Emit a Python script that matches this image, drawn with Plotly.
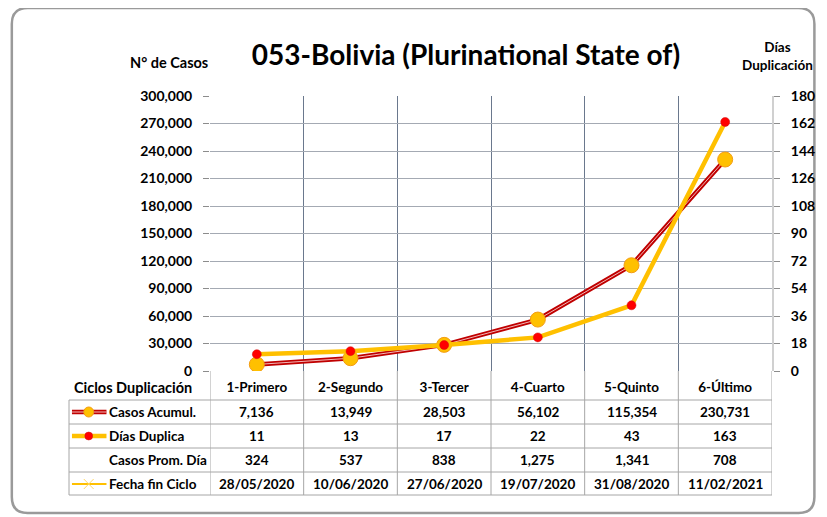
import plotly.graph_objects as go

CICLOS = ["1-Primero", "2-Segundo", "3-Tercer", "4-Cuarto", "5-Quinto", "6-Último"]
CASOS_ACUMUL = [7136, 13949, 28503, 56102, 115354, 230731]
DIAS_DUPLICA = [11, 13, 17, 22, 43, 163]
CASOS_PROM_DIA = [324, 537, 838, 1275, 1341, 708]
FECHA_FIN = ["28/05/2020", "10/06/2020", "27/06/2020", "19/07/2020", "31/08/2020", "11/02/2021"]

# the page body adds an 8px margin, so the figure is drawn 8px smaller
OFF = 8
W, H = 827 - OFF, 517 - OFF
L, R, T, B = 210, 780, 96, 371  # plot area in window pixels

FONT = "Lato"
DARK_RED = "#c00000"
GOLD = "#ffc000"
RED = "#ff0000"
GRID_H = "#a4aab3"
GRID_V = "#6a788d"
TABLE_LINE = "#a6a6a6"


def px(x):
    return (x - L) / (R - L)


def py(y):
    return (B - y) / (B - T)


fig = go.Figure()

fig.add_trace(go.Scatter(
    x=CICLOS, y=CASOS_ACUMUL, mode="lines", yaxis="y",
    line=dict(color=DARK_RED, width=4.5), showlegend=False, hoverinfo="skip",
))
fig.add_trace(go.Scatter(
    x=CICLOS, y=CASOS_ACUMUL, mode="lines+markers", yaxis="y", name="Casos Acumul.",
    line=dict(color="#f2b8b8", width=1),
    marker=dict(size=15, color=GOLD, line=dict(color="#f39c12", width=1)),
    showlegend=False,
))
fig.add_trace(go.Scatter(
    x=CICLOS, y=DIAS_DUPLICA, mode="lines+markers", yaxis="y2", name="Días Duplica",
    line=dict(color=GOLD, width=4.5),
    marker=dict(size=9, color=RED, line=dict(color="#d01010", width=0.5)),
    showlegend=False,
))

shapes = []
annotations = []

# outer rounded border
x0, x1, y0, y1, rad = 9, 823, 8, 513, 16
path = (
    f"M {px(x0 + rad)},{py(y0)} L {px(x1 - rad)},{py(y0)} "
    f"Q {px(x1)},{py(y0)} {px(x1)},{py(y0 + rad)} "
    f"L {px(x1)},{py(y1 - rad)} Q {px(x1)},{py(y1)} {px(x1 - rad)},{py(y1)} "
    f"L {px(x0 + rad)},{py(y1)} Q {px(x0)},{py(y1)} {px(x0)},{py(y1 - rad)} "
    f"L {px(x0)},{py(y0 + rad)} Q {px(x0)},{py(y0)} {px(x0 + rad)},{py(y0)} Z"
)
shapes.append(dict(type="path", path=path, xref="paper", yref="paper",
                   line=dict(color="#9a9a9a", width=2.5), layer="below"))

# table grid
ROW_LINES = [400, 424, 448, 472, 495]
for yl in ROW_LINES:
    shapes.append(dict(type="line", xref="paper", yref="paper",
                       x0=px(67), x1=px(R), y0=py(yl), y1=py(yl),
                       line=dict(color=TABLE_LINE, width=1)))
shapes.append(dict(type="line", xref="paper", yref="paper",
                   x0=px(67), x1=px(67), y0=py(400), y1=py(495),
                   line=dict(color=TABLE_LINE, width=1)))
for i in range(len(CICLOS) + 1):
    shapes.append(dict(type="line", xref="x", yref="paper",
                       x0=i - 0.5, x1=i - 0.5, y0=0, y1=py(495),
                       line=dict(color=TABLE_LINE, width=1)))

# legend keys inside the table
ROW_Y = [412, 436, 460, 484]
kx0, kx1, kxc = 70, 105, 87
shapes.append(dict(type="line", xref="paper", yref="paper", x0=px(kx0), x1=px(kx1),
                   y0=py(ROW_Y[0]), y1=py(ROW_Y[0]), line=dict(color=DARK_RED, width=4.5)))
shapes.append(dict(type="line", xref="paper", yref="paper", x0=px(kx0), x1=px(kx1),
                   y0=py(ROW_Y[0]), y1=py(ROW_Y[0]), line=dict(color="#f2b8b8", width=1)))
shapes.append(dict(type="circle", xref="paper", yref="paper",
                   x0=px(kxc - 5), x1=px(kxc + 5), y0=py(ROW_Y[0] - 5), y1=py(ROW_Y[0] + 5),
                   fillcolor=GOLD, line=dict(color="#f39c12", width=1)))
shapes.append(dict(type="line", xref="paper", yref="paper", x0=px(kx0), x1=px(kx1),
                   y0=py(ROW_Y[1]), y1=py(ROW_Y[1]), line=dict(color=GOLD, width=4.5)))
shapes.append(dict(type="circle", xref="paper", yref="paper",
                   x0=px(kxc - 4), x1=px(kxc + 4), y0=py(ROW_Y[1] - 4), y1=py(ROW_Y[1] + 4),
                   fillcolor=RED, line=dict(color="#d01010", width=0.5)))
shapes.append(dict(type="line", xref="paper", yref="paper", x0=px(kx0), x1=px(kx1),
                   y0=py(ROW_Y[3]), y1=py(ROW_Y[3]), line=dict(color=GOLD, width=2)))
for d in (-1, 1):
    shapes.append(dict(type="line", xref="paper", yref="paper",
                       x0=px(kxc - 5), x1=px(kxc + 5),
                       y0=py(ROW_Y[3] - 5 * d), y1=py(ROW_Y[3] + 5 * d),
                       line=dict(color="#ffd966", width=1)))

bold = dict(family=FONT, size=13.5, color="black", weight="bold")
row_labels = ["Casos Acumul.", "Días Duplica", "Casos Prom. Día", "Fecha fin Ciclo"]
row_values = [
    [f"{v:,}" for v in CASOS_ACUMUL],
    [f"{v}" for v in DIAS_DUPLICA],
    [f"{v:,}" for v in CASOS_PROM_DIA],
    FECHA_FIN,
]
for r, (lab, vals) in enumerate(zip(row_labels, row_values)):
    annotations.append(dict(text=lab, xref="paper", yref="paper", x=px(106), y=py(ROW_Y[r]),
                            xanchor="left", yanchor="middle", showarrow=False, font=bold))
    for i, v in enumerate(vals):
        annotations.append(dict(text=v, xref="x", yref="paper", x=i, y=py(ROW_Y[r]),
                                xanchor="center", yanchor="middle", showarrow=False, font=bold))

annotations.append(dict(text="Ciclos Duplicación", xref="paper", yref="paper",
                        x=px(70), y=py(387), xanchor="left", yanchor="middle",
                        showarrow=False, font=dict(bold, size=14.5)))
annotations.append(dict(text="N° de Casos", xref="paper", yref="paper",
                        x=px(168), y=py(63), xanchor="center", yanchor="middle",
                        showarrow=False, font=dict(bold, size=14.5)))
annotations.append(dict(text="Días<br>Duplicación", xref="paper", yref="paper",
                        x=px(786), y=py(56), xanchor="center", yanchor="middle",
                        showarrow=False, font=dict(bold, size=13.5)))

fig.update_layout(
    width=W, height=H, autosize=False,
    margin=dict(l=L - OFF, r=827 - R, t=T - OFF, b=517 - B, pad=0),
    paper_bgcolor="white", plot_bgcolor="white",
    font=dict(family=FONT, color="black"),
    title=dict(text="053-Bolivia (Plurinational State of)", x=(466 - OFF) / W,
               y=1 - (55 - OFF) / H, xanchor="center", yanchor="middle",
               font=dict(family=FONT, size=28, color="black", weight="bold")),
    xaxis=dict(
        type="category", tickson="boundaries", showgrid=True, gridcolor=GRID_V, gridwidth=1,
        ticks="", showline=False, zeroline=False, range=[-0.5, 5.5],
        tickfont=dict(bold, size=13.5), ticklabelstandoff=6,
    ),
    yaxis=dict(
        range=[0, 300000], dtick=30000, tickformat=",", showgrid=True, gridcolor=GRID_H,
        gridwidth=1.3, ticks="outside", ticklen=6, tickcolor="#8c8c8c", showline=False,
        zeroline=False, tickfont=dict(bold, size=14), ticklabelstandoff=8,
    ),
    yaxis2=dict(
        range=[0, 180], dtick=18, overlaying="y", side="right", showgrid=False,
        ticks="outside", ticklen=6, tickcolor="#8c8c8c", showline=True, linecolor="#d0d0d0",
        linewidth=2, zeroline=False, tickfont=dict(bold, size=14), ticklabelstandoff=8,
    ),
    shapes=shapes,
    annotations=annotations,
    showlegend=False,
)

fig.write_html("out.html")
